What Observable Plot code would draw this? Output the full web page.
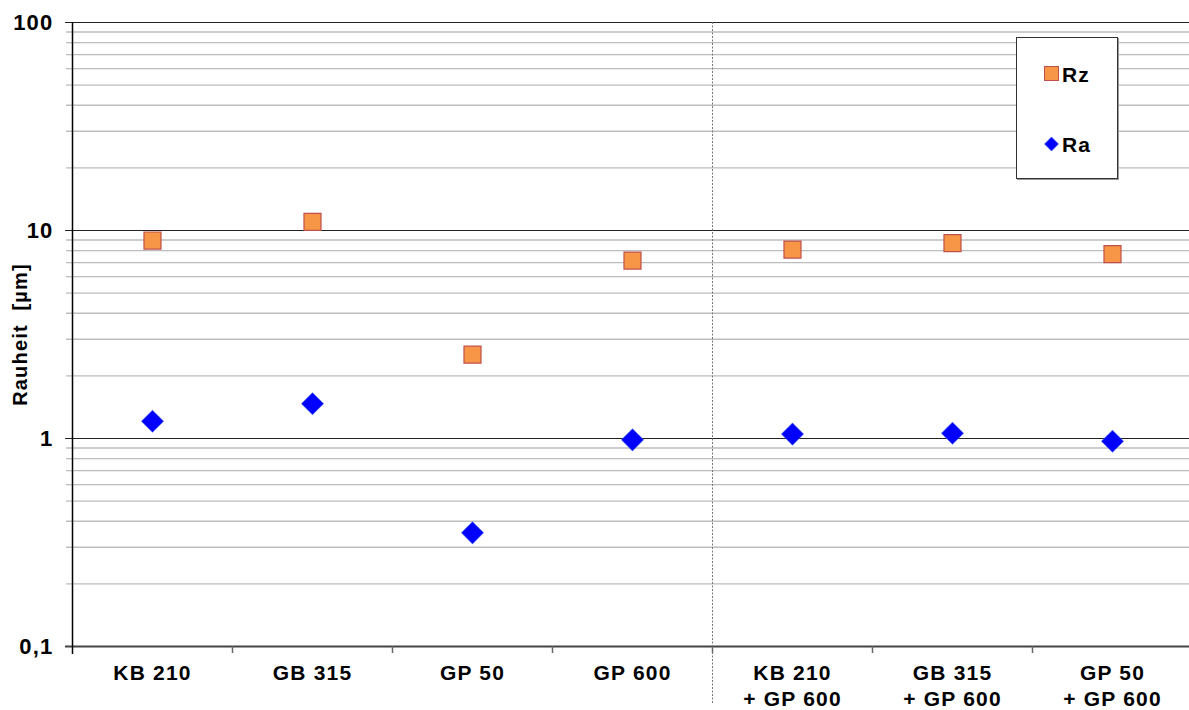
<!DOCTYPE html>
<html>
<head>
<meta charset="utf-8">
<script src="https://cdn.jsdelivr.net/npm/d3@7"></script>
<script src="https://cdn.jsdelivr.net/npm/@observablehq/plot@0.6"></script>
<style>
  html, body { margin: 0; padding: 0; background: #fff; }
  #wrap { position: relative; width: 1189px; height: 710px; overflow: hidden; }
  #wrap svg text { font-family: "Liberation Sans", Arial, sans-serif; font-weight: bold; letter-spacing: 1.2px; }
  #legend { position: absolute; left: 1016px; top: 37px; width: 100px; height: 140px;
            border: 1px solid #333; background: #fff; box-shadow: 1px 1px 0 #999; }
  #legend svg text { font-family: "Liberation Sans", Arial, sans-serif; font-weight: bold; font-size: 21px; letter-spacing: 1.2px; }
</style>
</head>
<body>
<div id="wrap"></div>
<script>
const categories = ["KB 210", "GB 315", "GP 50", "GP 600", "KB 210\n+ GP 600", "GB 315\n+ GP 600", "GP 50\n+ GP 600"];
const rzValues = [8.95, 11.0, 2.53, 7.17, 8.1, 8.7, 7.7];
const raValues = [1.21, 1.47, 0.352, 0.985, 1.05, 1.06, 0.97];
const majorTicks = [0.1, 1, 10, 100];
const yTickLabels = ["0,1", "1", "10", "100"];
const minorTicks = [0.2, 0.3, 0.4, 0.5, 0.6, 0.7, 0.8, 0.9, 2, 3, 4, 5, 6, 7, 8, 9, 20, 30, 40, 50, 60, 70, 80, 90];
const seriesNames = ["Rz", "Ra"];
const rzColor = "#F79646", rzStroke = "#C0504D", raColor = "#0000FF";

const rzData = categories.map((c, i) => ({cat: c, value: rzValues[i]}));
const raData = categories.map((c, i) => ({cat: c, value: raValues[i]}));

const chart = Plot.plot({
  width: 1189,
  height: 710,
  marginLeft: 72,
  marginRight: 0,
  marginTop: 22,
  marginBottom: 64,
  x: {type: "band", domain: categories, range: [72, 1192], padding: 0, axis: null},
  y: {type: "log", domain: [0.1, 100], axis: null},
  marks: [
    Plot.ruleY(minorTicks, {stroke: "#bdbdbd", strokeWidth: 1.3, insetLeft: -6}),
    Plot.ruleY(majorTicks.slice(1), {stroke: "#222", strokeWidth: 1, insetLeft: -7}),
    Plot.ruleY([0.1], {stroke: "#444", strokeWidth: 2, insetLeft: -7}),
    Plot.ruleX([categories[0]], {dx: -80, stroke: "#000", strokeWidth: 1.5, insetBottom: -8}),
    Plot.ruleX([categories[4]], {dx: -80, stroke: "#777", strokeWidth: 1, strokeDasharray: "2,1.5", insetBottom: -58}),
    Plot.ruleX(categories.slice(1), {dx: -80, y1: 0.1, y2: 0.1, stroke: "#666", strokeWidth: 1.5, insetBottom: -7}),
    Plot.text(majorTicks, {y: d => d, text: (d, i) => yTickLabels[i], frameAnchor: "left", textAnchor: "end", dx: -19, fontSize: 22, fill: "#000"}),
    Plot.text(["Rauheit\u00a0\u00a0[µm]"], {frameAnchor: "left", textAnchor: "middle", rotate: -90, dx: -52, fontSize: 20, fill: "#000"}),
    Plot.text(categories, {x: d => d, frameAnchor: "bottom", lineAnchor: "top", dy: 16, fontSize: 21, lineHeight: 1.2, fill: "#000"}),
    Plot.dot(raData, {x: "cat", y: "value", symbol: "diamond2", r: 9.97, fill: raColor, stroke: "#3a5fd8", strokeWidth: 0.6}),
    Plot.dot(rzData, {x: "cat", y: "value", symbol: "square", r: 9.6, fill: rzColor, stroke: rzStroke, strokeWidth: 1.2})
  ]
});

const wrap = document.getElementById("wrap");
wrap.appendChild(chart);

// legend
const legend = document.createElement("div");
legend.id = "legend";
legend.innerHTML = `<svg width="100" height="140">
  <rect x="27.5" y="28.5" width="14" height="14" fill="${rzColor}" stroke="${rzStroke}" stroke-width="1"/>
  <text x="45" y="36" dominant-baseline="central">${seriesNames[0]}</text>
  <path d="M34.5,99 L41.5,106 L34.5,113 L27.5,106 Z" fill="${raColor}" stroke="#3a5fd8" stroke-width="0.6"/>
  <text x="45" y="106" dominant-baseline="central">${seriesNames[1]}</text>
</svg>`;
wrap.appendChild(legend);
</script>
</body>
</html>
